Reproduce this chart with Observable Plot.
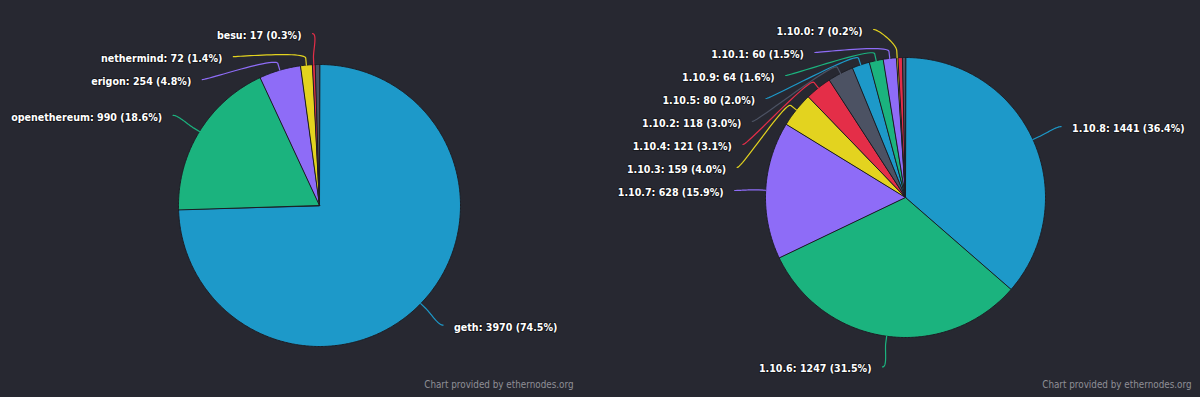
<!DOCTYPE html>
<html><head><meta charset="utf-8">
<script src="https://cdn.jsdelivr.net/npm/d3@7"></script>
<script src="https://cdn.jsdelivr.net/npm/@observablehq/plot@0.6"></script>
<style>
html,body{margin:0;padding:0;background:#272831;}
#chart{width:1200px;height:397px;overflow:hidden;}
</style></head><body><div id="chart"></div>
<script>
// ---- data ----
const clientNames = ["geth", "openethereum", "erigon", "nethermind", "besu", null];
const clientValues = [3970, 990, 254, 72, 17, 26];           // last: tiny unlabeled remainder
const versionNames = ["1.10.8", "1.10.6", "1.10.7", "1.10.3", "1.10.4", "1.10.2", "1.10.5", "1.10.9", "1.10.1", "1.10.0", null, null];
const versionValues = [1441, 1247, 628, 159, 121, 118, 80, 64, 60, 7, 20, 14]; // last two: tiny unlabeled remainder
const palette = ["#1d99c9", "#1bb37e", "#8e6cf7", "#e3d31f", "#e42e48", "#4c5263"];
const creditText = "Chart provided by ethernodes.org";

// ---- layout constants ----
const pies = [
  {names: clientNames, values: clientValues, cx: 319, cy: 205, r: 141, credX: 573},
  {names: versionNames, values: versionValues, cx: 905, cy: 197, r: 140, credX: 1191}
];
const labelDist = 31, gap = 23, topBound = 29, bottomBound = 375;

const slices = [], connectors = [], labelsL = [], labelsR = [];

function pt(cx, cy, rad, a) { return [cx + rad * Math.sin(a), cy - rad * Math.cos(a)]; }

for (const p of pies) {
  const total = d3.sum(p.values);
  let a0 = 0;
  const items = p.values.map((v, i) => {
    const a1 = a0 + v / total * 2 * Math.PI;
    const s = {name: p.names[i], value: v, pct: v / total * 100, color: palette[i % palette.length], a0, a1, mid: (a0 + a1) / 2};
    a0 = a1;
    return s;
  });
  for (const s of items) {
    const ring = [[p.cx, p.cy]];
    const n = Math.max(2, Math.ceil((s.a1 - s.a0) / 0.01));
    for (let k = 0; k <= n; k++) ring.push(pt(p.cx, p.cy, p.r, s.a0 + (s.a1 - s.a0) * k / n));
    ring.push([p.cx, p.cy]);
    slices.push({type: "Feature", properties: {color: s.color}, geometry: {type: "Polygon", coordinates: [ring]}});
  }
  const R = p.r + labelDist;
  const labeled = items.filter(s => s.name != null);
  for (const side of ["left", "right"]) {
    const group = labeled.filter(s => (s.mid > Math.PI) === (side === "left"));
    group.forEach(s => s.ny = p.cy - Math.cos(s.mid) * R);
    group.sort((a, b) => a.ny - b.ny);
    let prev = -Infinity;
    for (const s of group) { s.y = Math.max(s.ny, prev + gap, topBound); prev = s.y; }
    let next = Infinity;
    for (let k = group.length - 1; k >= 0; k--) { const s = group[k]; s.y = Math.min(s.y, next - gap, bottomBound); next = s.y; }
    for (const s of group) {
      const dy = s.y - p.cy;
      const dxAbs = Math.sqrt(Math.max(0, R * R - dy * dy));
      s.x = side === "left" ? p.cx - dxAbs : p.cx + dxAbs;
      const label = `${s.name}: ${s.value} (${s.pct.toFixed(1)}%)`;
      (side === "left" ? labelsL : labelsR).push({tx: side === "left" ? s.x - 11 : s.x + 11, ty: s.y + 2, label});
      const touch = pt(p.cx, p.cy, p.r, s.mid);
      const brk = pt(p.cx, p.cy, p.r + 7, s.mid);
      const c1 = [s.x + (side === "left" ? 5 : -5), s.y];
      const c2 = [2 * brk[0] - touch[0], 2 * brk[1] - touch[1]];
      const p0 = [s.x, s.y];
      const line = [];
      for (let k = 0; k <= 24; k++) {
        const t = k / 24, u = 1 - t;
        line.push([
          u*u*u*p0[0] + 3*u*u*t*c1[0] + 3*u*t*t*c2[0] + t*t*t*brk[0],
          u*u*u*p0[1] + 3*u*u*t*c1[1] + 3*u*t*t*c2[1] + t*t*t*brk[1]
        ]);
      }
      line.push(touch);
      connectors.push({type: "Feature", properties: {color: s.color}, geometry: {type: "LineString", coordinates: line}});
    }
  }
}
const credits = pies.map(p => ({tx: p.credX, ty: 384, label: creditText}));

const textStyle = {fontFamily: "'DejaVu Sans Condensed', 'DejaVu Sans', sans-serif", fontSize: 10.6, fontWeight: "bold",
  fill: "#ffffff", stroke: "#000000", strokeWidth: 2, strokeOpacity: 0.4, lineAnchor: "middle"};

const chart = Plot.plot({
  width: 1200, height: 397, margin: 0,
  projection: d3.geoIdentity(),
  color: {type: "identity"},
  style: {background: "#272831", overflow: "visible"},
  marks: [
    Plot.geo(slices, {fill: d => d.properties.color, stroke: "#1c1d24", strokeWidth: 1}),
    Plot.geo(connectors, {fill: "none", stroke: d => d.properties.color, strokeWidth: 1.2}),
    Plot.text(labelsL, {x: "tx", y: "ty", text: "label", textAnchor: "end", ...textStyle}),
    Plot.text(labelsR, {x: "tx", y: "ty", text: "label", textAnchor: "start", ...textStyle}),
    Plot.text(credits, {x: "tx", y: "ty", text: "label", textAnchor: "end", lineAnchor: "middle",
      fontFamily: "'DejaVu Sans Condensed', 'DejaVu Sans', sans-serif", fontSize: 9.8, fill: "#8f8f96"})
  ]
});
document.getElementById("chart").appendChild(chart);
</script>
</body></html>
